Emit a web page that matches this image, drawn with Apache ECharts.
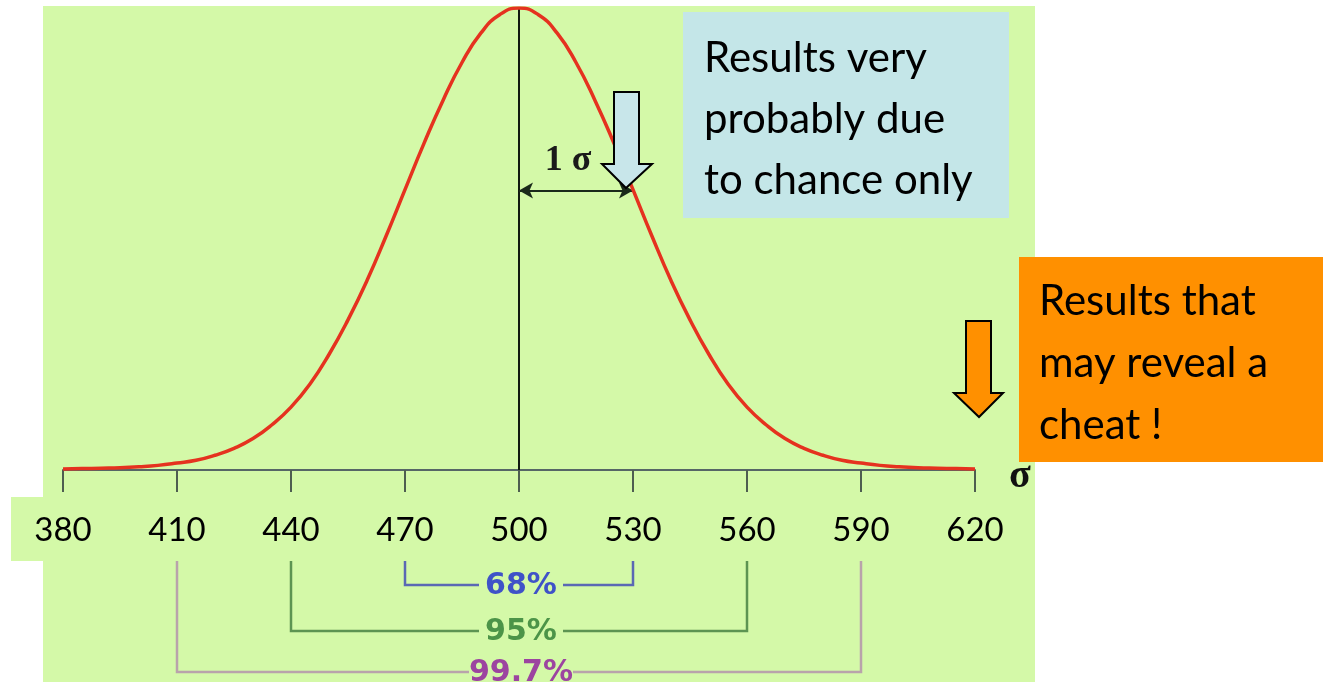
<!DOCTYPE html>
<html>
<head>
<meta charset="utf-8">
<script src="https://cdn.jsdelivr.net/npm/echarts@6/dist/echarts.min.js"></script>
<style>
  html, body { margin: 0; padding: 0; background: #fff; }
  #chart { width: 1323px; height: 682px; }
</style>
</head>
<body>
<div id="chart"></div>
<script>
// scores along the axis and curve height (percent of peak)
const xs = [380, 385, 390, 395, 400, 405, 410, 415, 420, 425, 430, 435, 440, 445, 450, 455, 460, 465, 470, 475, 480, 485, 490, 495,
  500, 505, 510, 515, 520, 525, 530, 535, 540, 545, 550, 555, 560, 565, 570, 575, 580, 585, 590, 595, 600, 605, 610, 615, 620];
const ys = [0.2, 0.3, 0.4, 0.5, 0.7, 1.0, 1.5, 2.1, 3.2, 4.7, 6.8, 9.8, 13.6, 18.6, 25, 32.5, 41, 50.6, 60.7, 70.7, 80, 88.2, 94.6, 98.6,
  100, 98.6, 94.6, 88.2, 80, 70.7, 60.7, 50.6, 41, 32.5, 25, 18.6, 13.6, 9.8, 6.8, 4.7, 3.2, 2.1, 1.5, 1.0, 0.7, 0.5, 0.4, 0.3, 0.2];
const tickValues = [380, 410, 440, 470, 500, 530, 560, 590, 620];
const mean = 500;
const sigma = 30;
// confidence brackets: label, from, to
const bandLabels = ['68%', '95%', '99.7%'];
const bandFrom = [470, 440, 410];
const bandTo = [530, 560, 590];
const bandLineColors = ['#5a68b4', '#5d9452', '#b9a3ab'];
const bandTextColors = ['#3f52c8', '#4c9448', '#9c44a0'];
const bandY = [585, 631, 672];

const boxFont = "'Comic Sans MS', Lato, sans-serif";

let myChart = echarts.init(document.getElementById('chart'));

myChart.setOption({
  animation: false,
  grid: { left: 63, right: 348, top: 8, bottom: 212 },
  xAxis: {
    type: 'value',
    min: 380,
    max: 620,
    interval: sigma,
    axisLine: { lineStyle: { color: '#566666', width: 2 } },
    axisTick: { length: 22, lineStyle: { color: '#4e5e50', width: 2 } },
    splitLine: { show: false },
    axisLabel: {
      margin: 44,
      fontSize: 33,
      color: '#000',
      fontFamily: boxFont,
      formatter: v => (tickValues.indexOf(v) >= 0 ? String(v) : '')
    }
  },
  yAxis: { type: 'value', min: 0, max: 100, show: false },
  series: [
    {
      type: 'line',
      data: xs.map((x, i) => [x, ys[i]]),
      smooth: true,
      symbol: 'none',
      z: 5,
      lineStyle: { color: '#e5321f', width: 3.5 },
      markLine: {
        silent: true,
        symbol: 'none',
        data: [
          [
            { coord: [mean, 0], lineStyle: { color: '#101a10', width: 2, type: 'solid' } },
            { coord: [mean, 100] }
          ],
          [
            {
              coord: [mean, 60.5],
              symbol: 'arrow',
              symbolSize: [12, 14],
              lineStyle: { color: '#1a2a1a', width: 2, type: 'solid' },
              label: {
                show: true,
                position: 'middle',
                distance: 12,
                offset: [-8, 0],
                formatter: '1 σ',
                fontFamily: "'Liberation Serif', serif",
                fontWeight: 'bold',
                fontSize: 36,
                color: '#1a1a1a'
              }
            },
            { coord: [mean + sigma, 60.5], symbol: 'arrow', symbolSize: [12, 14] }
          ]
        ],
        label: { show: false }
      }
    }
  ]
});

// pixel positions of data values through the x scale
const px = v => myChart.convertToPixel({ xAxisIndex: 0 }, v);

const graphics = [
  // background panel and label strip
  { type: 'rect', z: -10, shape: { x: 43, y: 6, width: 992, height: 676 }, style: { fill: '#d4f9a8' } },
  { type: 'rect', z: -10, shape: { x: 11, y: 497, width: 1000, height: 64 }, style: { fill: '#d4f9a8' } },
  // σ axis name
  {
    type: 'text', z: 50, x: 1020, y: 477,
    style: { text: 'σ', font: "bold 40px 'Liberation Serif', serif", fill: '#111', align: 'center', verticalAlign: 'middle' }
  },
  // blue note
  { type: 'rect', z: 40, shape: { x: 683, y: 12, width: 326, height: 206 }, style: { fill: '#c4e6e8' } },
  {
    type: 'text', z: 41, x: 704, y: 28,
    style: { text: 'Results very\nprobably due\nto chance only', font: '42px ' + boxFont, lineHeight: 61, fill: '#000', verticalAlign: 'top' }
  },
  // orange note
  { type: 'rect', z: 40, shape: { x: 1019, y: 257, width: 304, height: 205 }, style: { fill: '#ff9000' } },
  {
    type: 'text', z: 41, x: 1039, y: 270,
    style: { text: 'Results that\nmay reveal a\ncheat !', font: '42px ' + boxFont, lineHeight: 62, fill: '#000', verticalAlign: 'top' }
  },
  // blue arrow
  {
    type: 'polygon', z: 45,
    shape: { points: [[614, 92], [639, 92], [639, 164], [652, 164], [626, 188], [602, 164], [614, 164]] },
    style: { fill: '#c8e6ea', stroke: '#000', lineWidth: 2 }
  },
  // orange arrow
  {
    type: 'polygon', z: 45,
    shape: { points: [[966, 321], [991, 321], [991, 393], [1003, 393], [979, 417], [954, 393], [966, 393]] },
    style: { fill: '#ff9000', stroke: '#000', lineWidth: 2 }
  }
];

// brackets under the axis
bandLabels.forEach((label, i) => {
  const x1 = px(bandFrom[i]);
  const x2 = px(bandTo[i]);
  const xm = px(mean) + 2;
  const y = bandY[i];
  const half = label.length > 3 ? 52 : 42;
  const stroke = { stroke: bandLineColors[i], lineWidth: 2.5 };
  graphics.push(
    { type: 'polyline', z: 20, shape: { points: [[x1, 561], [x1, y], [xm - half, y]] }, style: Object.assign({ fill: null }, stroke) },
    { type: 'polyline', z: 20, shape: { points: [[xm + half, y], [x2, y], [x2, 561]] }, style: Object.assign({ fill: null }, stroke) },
    {
      type: 'text', z: 21, x: xm, y: y + 1,
      style: { text: label, font: "bold 30px 'DejaVu Sans', sans-serif", fill: bandTextColors[i], align: 'center', verticalAlign: 'middle' }
    }
  );
});

myChart.setOption({ graphic: graphics });
</script>
</body>
</html>
